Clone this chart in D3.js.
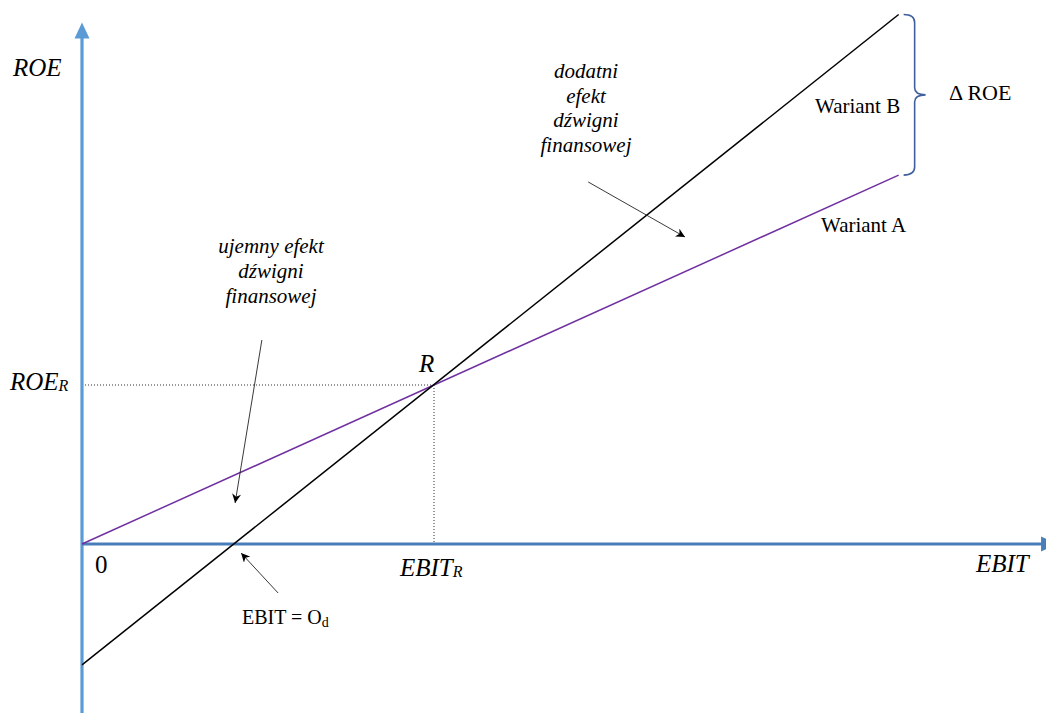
<!DOCTYPE html>
<html>
<head>
<meta charset="utf-8">
<script src="https://cdn.jsdelivr.net/npm/d3@7"></script>
<style>
  html, body { margin: 0; padding: 0; background: #fff; }
  svg { display: block; }
  text { font-family: "Liberation Serif", "Tinos", "Times New Roman", "DejaVu Serif", serif; fill: #000; }
</style>
</head>
<body>
<svg id="chart" width="1046" height="713"></svg>
<script>
// ---- data (EBIT, ROE in arbitrary units; EBIT_R = 100, ROE_R = 100) ----
const EBIT_R = 100;
const ROE_R = 100;
const EBIT_Od = 43;
const wariantA = [[0, 0], [232, 232]];
const wariantB = [[0, -76], [232, 333]];
const axisExtentX = [0, 277];
const axisExtentY = [-107, 328];
// annotation arrows: [from, to] in data units
const arrowDodatni = [[143.8, 227.7], [171.3, 193.1]];
const arrowUjemny = [[51.1, 128.3], [43.5, 25.8]];
const arrowOd = [[55.7, -30.8], [45.2, -5.7]];
const textDodatni = ["dodatni", "efekt", "dźwigni", "finansowej"];
const textUjemny = ["ujemny efekt", "dźwigni", "finansowej"];

const svg = d3.select("#chart");
const x = d3.scaleLinear().domain([0, EBIT_R]).range([82, 434]);
const y = d3.scaleLinear().domain([0, ROE_R]).range([544, 385]);

const defs = svg.append("defs");
defs.append("marker").attr("id", "stealth")
  .attr("viewBox", "0 0 10 10").attr("refX", 10).attr("refY", 5)
  .attr("markerWidth", 10).attr("markerHeight", 9)
  .attr("markerUnits", "userSpaceOnUse").attr("orient", "auto")
  .append("path").attr("d", "M0,0 L10,5 L0,10 L3,5 Z").attr("fill", "#000");

// dotted guides
svg.append("line").attr("x1", x(0)).attr("x2", x(EBIT_R)).attr("y1", y(ROE_R)).attr("y2", y(ROE_R))
  .attr("stroke", "#333").attr("stroke-width", 1).attr("stroke-dasharray", "1,2");
svg.append("line").attr("x1", x(EBIT_R)).attr("x2", x(EBIT_R)).attr("y1", y(ROE_R)).attr("y2", y(0))
  .attr("stroke", "#333").attr("stroke-width", 1).attr("stroke-dasharray", "1,2");

// axes
const yAxisTop = y(axisExtentY[1]);
svg.append("line").attr("x1", x(0)).attr("x2", x(0))
  .attr("y1", y(axisExtentY[0])).attr("y2", yAxisTop + 14)
  .attr("stroke", "#5b9bd5").attr("stroke-width", 3.2);
svg.append("path")
  .attr("d", `M${x(0)},${yAxisTop} L${x(0) + 7.5},${yAxisTop + 16} L${x(0) - 7.5},${yAxisTop + 16} Z`)
  .attr("fill", "#5b9bd5");

const xAxisEnd = x(axisExtentX[1]);
svg.append("line").attr("x1", x(0)).attr("x2", xAxisEnd - 14)
  .attr("y1", y(0)).attr("y2", y(0))
  .attr("stroke", "#4a7ebb").attr("stroke-width", 3.2);
svg.append("path")
  .attr("d", `M${xAxisEnd},${y(0)} L${xAxisEnd - 16},${y(0) - 7.5} L${xAxisEnd - 16},${y(0) + 7.5} Z`)
  .attr("fill", "#4a7ebb");

// lines
const line = d3.line().x(d => x(d[0])).y(d => y(d[1]));
svg.append("path").datum(wariantA).attr("d", line)
  .attr("fill", "none").attr("stroke", "#7030a0").attr("stroke-width", 1.5);
svg.append("path").datum(wariantB).attr("d", line)
  .attr("fill", "none").attr("stroke", "#000").attr("stroke-width", 1.5);

// annotation arrows
[arrowDodatni, arrowUjemny, arrowOd].forEach(a => {
  svg.append("line")
    .attr("x1", x(a[0][0])).attr("y1", y(a[0][1]))
    .attr("x2", x(a[1][0])).attr("y2", y(a[1][1]))
    .attr("stroke", "#222").attr("stroke-width", 0.9)
    .attr("marker-end", "url(#stealth)");
});

// brace (Delta ROE)
const bx = x(wariantA[1][0]) + 5;
const yTop = y(wariantB[1][1]), yBot = y(wariantA[1][1]);
const yMid = (yTop + yBot) / 2;
const bv = bx + 11, bt = bx + 22;
svg.append("path")
  .attr("d", `M${bx},${yTop} Q${bv},${yTop} ${bv},${yTop + 8} L${bv},${yMid - 7} Q${bv},${yMid} ${bt},${yMid}
              Q${bv},${yMid} ${bv},${yMid + 7} L${bv},${yBot - 8} Q${bv},${yBot} ${bx},${yBot}`)
  .attr("fill", "none").attr("stroke", "#3f5f9f").attr("stroke-width", 1.6);

// labels
function label(tx, ty, str, size, italic, anchor) {
  return svg.append("text").attr("x", tx).attr("y", ty)
    .attr("font-size", size).attr("font-style", italic ? "italic" : "normal")
    .attr("text-anchor", anchor || "start").text(str);
}
label(13, 76, "ROE", 25, true);
const roeR = label(10, 390, "ROE", 25, true);
roeR.append("tspan").attr("font-size", 16).attr("dy", 1).text("R");
label(419, 372, "R", 25, true);
label(95, 573, "0", 25, false);
const ebitR = label(400, 576, "EBIT", 25, true);
ebitR.append("tspan").attr("font-size", 16).attr("dy", 1).text("R");
label(976, 572, "EBIT", 25, true);
const od = label(242, 624, "EBIT = O", 20, false);
od.append("tspan").attr("font-size", 14).attr("dy", 3).text("d");
label(815, 113, "Wariant B", 21, false);
label(821, 232, "Wariant A", 21, false);
label(949, 100, "Δ ROE", 22, false);

textDodatni.forEach((t, i) => label(586, 78 + i * 24.6, t, 21, true, "middle"));
textUjemny.forEach((t, i) => label(271, 253 + i * 25, t, 21, true, "middle"));
</script>
</body>
</html>
